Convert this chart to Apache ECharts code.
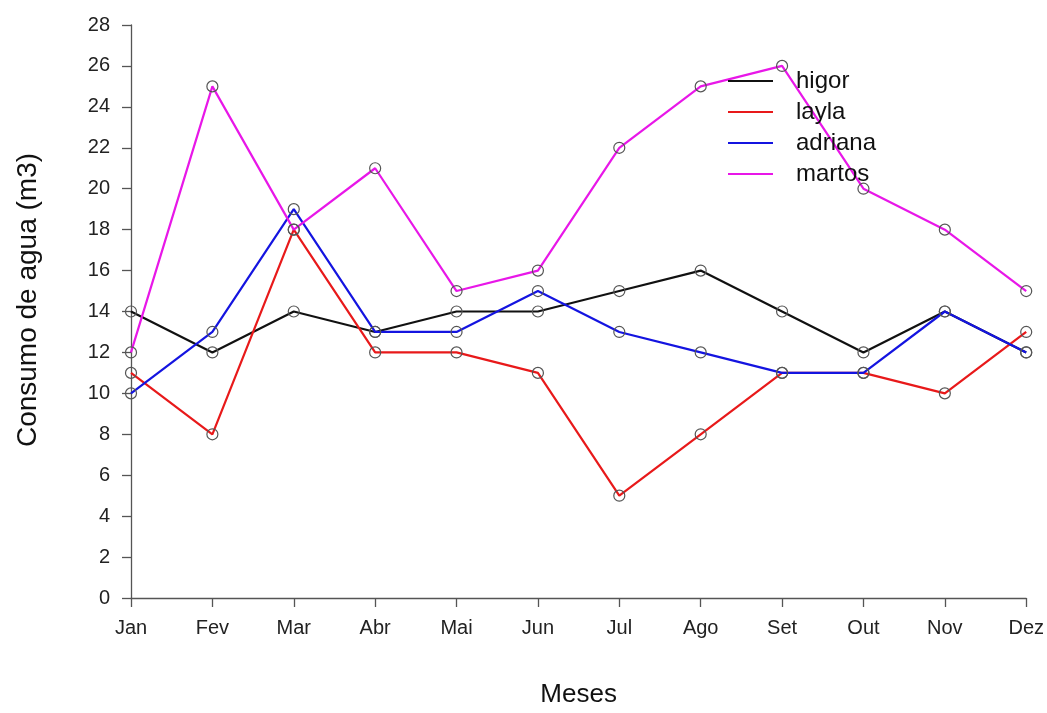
<!DOCTYPE html>
<html><head><meta charset="utf-8">
<script src="https://cdn.jsdelivr.net/npm/echarts@6/dist/echarts.min.js"></script>
<style>html,body{margin:0;padding:0;background:#fff;overflow:hidden}#c{width:1047px;height:713px}</style>
</head><body><div id="c"></div>
<script>
const months = ['Jan','Fev','Mar','Abr','Mai','Jun','Jul','Ago','Set','Out','Nov','Dez'];
const higor   = [14, 12, 14, 13, 14, 14, 15, 16, 14, 12, 14, 12];
const layla   = [11, 8, 18, 12, 12, 11, 5, 8, 11, 11, 10, 13];
const adriana = [10, 13, 19, 13, 13, 15, 13, 12, 11, 11, 14, 12];
const martos  = [12, 25, 18, 21, 15, 16, 22, 25, 26, 20, 18, 15];
const names = ['higor','layla','adriana','martos'];
const colors = ['#111111','#e8191a','#1414e0','#e817e8'];
const values = [higor, layla, adriana, martos];

const font = 'Liberation Sans, Arial, sans-serif';
const chart = echarts.init(document.getElementById('c'));
chart.setOption({
  backgroundColor: '#fff',
  animation: false,
  grid: {left: 131, right: 19, top: 25, bottom: 108, containLabel: false},
  legend: {
    orient: 'vertical', left: 723, top: 64,
    itemWidth: 45, itemHeight: 2, itemGap: 7,
    icon: 'rect',
    textStyle: {fontFamily: font, fontSize: 24, color: '#111', lineHeight: 24, padding: [0,0,0,18]},
    data: names.map((n,i)=>({name:n, itemStyle:{color:colors[i], borderWidth:0}}))
  },
  graphic: [{
    type: 'text',
    rotation: Math.PI/2,
    x: 28, y: 300,
    style: {text: 'Consumo de agua (m3)', font: '28px ' + font, fill: '#111', align: 'center', verticalAlign: 'middle'}
  }],
  xAxis: {
    type: 'category', data: months, boundaryGap: false,
    name: 'Meses', nameLocation: 'middle', nameGap: 84,
    nameTextStyle: {fontFamily: font, fontSize: 26, color: '#111'},
    axisLine: {lineStyle: {color: '#555', width: 1.3}},
    axisTick: {show: true, length: 9, alignWithLabel: true, lineStyle: {color:'#555', width: 1.3}},
    axisLabel: {fontFamily: font, fontSize: 20, color: '#222', margin: 20},
    splitLine: {show: false}
  },
  yAxis: {
    type: 'value', min: 0, max: 28, interval: 2,
    axisLine: {show: true, lineStyle: {color: '#555', width: 1.3}},
    axisTick: {show: true, length: 9, lineStyle: {color:'#555', width: 1.3}},
    axisLabel: {fontFamily: font, fontSize: 20, color: '#222', margin: 21},
    splitLine: {show: false}
  },
  series: names.map((n,i)=>({
    name: n, type: 'line', data: values[i],
    color: colors[i],
    lineStyle: {color: colors[i], width: 2.2},
    symbol: 'circle', symbolSize: 11,
    itemStyle: {color: 'rgba(0,0,0,0)', borderColor: '#555', borderWidth: 1.2},
    emphasis: {disabled: true}
  }))
});
</script></body></html>
